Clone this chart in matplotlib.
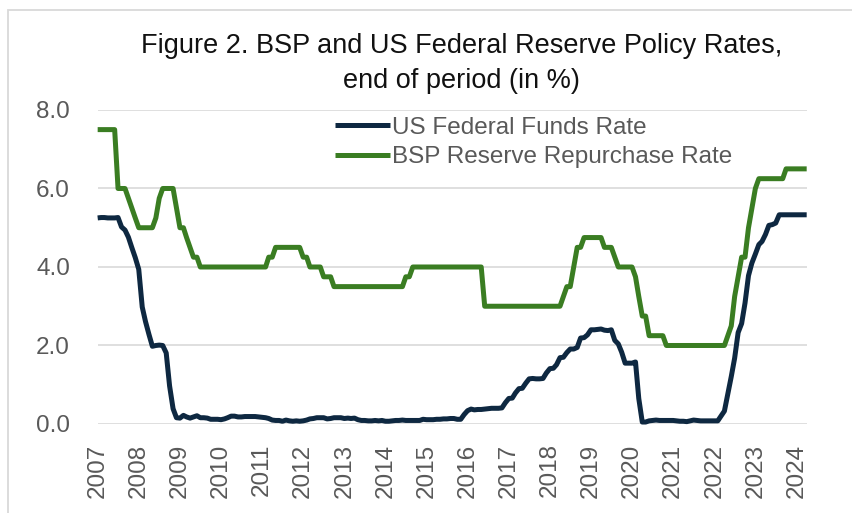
import matplotlib
matplotlib.use("Agg")
import matplotlib.pyplot as plt
import pandas as pd
from matplotlib.patches import Rectangle

# monthly, Jan 2007 - Apr 2024 (in %)
fed_funds = [
    5.25, 5.26, 5.26, 5.25, 5.25, 5.25, 5.26, 5.02, 4.94, 4.76, 4.49, 4.24,  # 2007
    3.94, 2.98, 2.61, 2.28, 1.98, 2.00, 2.01, 2.00, 1.81, 0.97, 0.39, 0.16,  # 2008
    0.15, 0.22, 0.18, 0.15, 0.18, 0.21, 0.16, 0.16, 0.15, 0.12, 0.12, 0.12,  # 2009
    0.11, 0.13, 0.16, 0.20, 0.20, 0.18, 0.18, 0.19, 0.19, 0.19, 0.19, 0.18,  # 2010
    0.17, 0.16, 0.14, 0.10, 0.09, 0.09, 0.07, 0.10, 0.08, 0.07, 0.08, 0.07,  # 2011
    0.08, 0.10, 0.13, 0.14, 0.16, 0.16, 0.16, 0.13, 0.14, 0.16, 0.16, 0.16,  # 2012
    0.14, 0.15, 0.14, 0.15, 0.11, 0.09, 0.09, 0.08, 0.08, 0.09, 0.08, 0.09,  # 2013
    0.07, 0.07, 0.08, 0.09, 0.09, 0.10, 0.09, 0.09, 0.09, 0.09, 0.09, 0.12,  # 2014
    0.11, 0.11, 0.11, 0.12, 0.12, 0.13, 0.13, 0.14, 0.14, 0.12, 0.12, 0.24,  # 2015
    0.34, 0.38, 0.36, 0.37, 0.37, 0.38, 0.39, 0.40, 0.40, 0.40, 0.41, 0.54,  # 2016
    0.65, 0.66, 0.79, 0.90, 0.91, 1.04, 1.15, 1.16, 1.15, 1.15, 1.16, 1.30,  # 2017
    1.41, 1.42, 1.51, 1.69, 1.70, 1.82, 1.91, 1.91, 1.95, 2.19, 2.20, 2.27,  # 2018
    2.40, 2.40, 2.41, 2.42, 2.39, 2.38, 2.40, 2.13, 2.04, 1.83, 1.55, 1.55,  # 2019
    1.55, 1.58, 0.65, 0.05, 0.05, 0.08, 0.09, 0.10, 0.09, 0.09, 0.09, 0.09,  # 2020
    0.09, 0.08, 0.07, 0.07, 0.06, 0.08, 0.10, 0.09, 0.08, 0.08, 0.08, 0.08,  # 2021
    0.08, 0.08, 0.20, 0.33, 0.77, 1.21, 1.68, 2.33, 2.56, 3.08, 3.78, 4.10,  # 2022
    4.33, 4.57, 4.65, 4.83, 5.06, 5.08, 5.12, 5.33, 5.33, 5.33, 5.33, 5.33,  # 2023
    5.33, 5.33, 5.33, 5.33,                                                  # 2024
]

bsp_rrp = [
    7.50, 7.50, 7.50, 7.50, 7.50, 7.50, 6.00, 6.00, 6.00, 5.75, 5.50, 5.25,  # 2007
    5.00, 5.00, 5.00, 5.00, 5.00, 5.25, 5.75, 6.00, 6.00, 6.00, 6.00, 5.50,  # 2008
    5.00, 5.00, 4.75, 4.50, 4.25, 4.25, 4.00, 4.00, 4.00, 4.00, 4.00, 4.00,  # 2009
    4.00, 4.00, 4.00, 4.00, 4.00, 4.00, 4.00, 4.00, 4.00, 4.00, 4.00, 4.00,  # 2010
    4.00, 4.00, 4.25, 4.25, 4.50, 4.50, 4.50, 4.50, 4.50, 4.50, 4.50, 4.50,  # 2011
    4.25, 4.25, 4.00, 4.00, 4.00, 4.00, 3.75, 3.75, 3.75, 3.50, 3.50, 3.50,  # 2012
    3.50, 3.50, 3.50, 3.50, 3.50, 3.50, 3.50, 3.50, 3.50, 3.50, 3.50, 3.50,  # 2013
    3.50, 3.50, 3.50, 3.50, 3.50, 3.50, 3.75, 3.75, 4.00, 4.00, 4.00, 4.00,  # 2014
    4.00, 4.00, 4.00, 4.00, 4.00, 4.00, 4.00, 4.00, 4.00, 4.00, 4.00, 4.00,  # 2015
    4.00, 4.00, 4.00, 4.00, 4.00, 3.00, 3.00, 3.00, 3.00, 3.00, 3.00, 3.00,  # 2016
    3.00, 3.00, 3.00, 3.00, 3.00, 3.00, 3.00, 3.00, 3.00, 3.00, 3.00, 3.00,  # 2017
    3.00, 3.00, 3.00, 3.00, 3.25, 3.50, 3.50, 4.00, 4.50, 4.50, 4.75, 4.75,  # 2018
    4.75, 4.75, 4.75, 4.75, 4.50, 4.50, 4.50, 4.25, 4.00, 4.00, 4.00, 4.00,  # 2019
    4.00, 3.75, 3.25, 2.75, 2.75, 2.25, 2.25, 2.25, 2.25, 2.25, 2.00, 2.00,  # 2020
    2.00, 2.00, 2.00, 2.00, 2.00, 2.00, 2.00, 2.00, 2.00, 2.00, 2.00, 2.00,  # 2021
    2.00, 2.00, 2.00, 2.00, 2.25, 2.50, 3.25, 3.75, 4.25, 4.25, 5.00, 5.50,  # 2022
    6.00, 6.25, 6.25, 6.25, 6.25, 6.25, 6.25, 6.25, 6.25, 6.50, 6.50, 6.50,  # 2023
    6.50, 6.50, 6.50, 6.50,                                                  # 2024
]

years = list(range(2007, 2025))
y_ticks = [0, 2, 4, 6, 8]

NAVY = "#0E2841"
GREEN = "#3A7D22"
GRAY_TXT = "#595959"
GRID = "#D9D9D9"
FONT = ["Liberation Sans", "DejaVu Sans"]

dates = pd.date_range("2007-01-01", periods=len(fed_funds), freq="MS")

fig = plt.figure(figsize=(8.53, 5.13), dpi=100)
ax = fig.add_axes([0.1145, 0.1735, 0.8312, 0.6121])

# chart area border (cut off at right/bottom like the source)
fig.patches.append(Rectangle((8 / 853, -0.1), 1.2, 1.1 - 10 / 513, transform=fig.transFigure,
                             fill=False, edgecolor=GRID, linewidth=1.3))

ax.plot(dates, fed_funds, color=NAVY, lw=3.6, solid_joinstyle="round", solid_capstyle="butt",
        label="US Federal Funds Rate", clip_on=False)
ax.plot(dates, bsp_rrp, color=GREEN, lw=3.6, solid_joinstyle="round", solid_capstyle="butt",
        label="BSP Reserve Repurchase Rate", clip_on=False)

ax.set_xlim(dates[0], dates[-1])
ax.set_ylim(0, 8)
ax.set_yticks(y_ticks)
ax.set_yticklabels([f"{v:.1f}" for v in y_ticks])
ax.set_xticks([pd.Timestamp(f"{y}-01-01") for y in years])
ax.set_xticklabels([str(y) for y in years], rotation=90)

ax.grid(axis="y", color=GRID, linewidth=1.2)
ax.set_axisbelow(True)
for s in ax.spines.values():
    s.set_visible(False)
ax.tick_params(axis="both", length=0, labelsize=17.5, labelcolor=GRAY_TXT)
ax.tick_params(axis="y", pad=20)
ax.tick_params(axis="x", pad=14)
for lbl in ax.get_xticklabels() + ax.get_yticklabels():
    lbl.set_fontfamily(FONT)

leg = ax.legend(loc="upper left", bbox_to_anchor=(0.393, 0.772), bbox_transform=fig.transFigure,
                frameon=False, borderpad=0, borderaxespad=0, handlelength=2.25, handletextpad=0.1,
                labelspacing=0.3, prop={"family": FONT, "size": 17.5})
for t in leg.get_texts():
    t.set_color(GRAY_TXT)

fig.text(0.541, 0.876, "Figure 2. BSP and US Federal Reserve Policy Rates,\nend of period (in %)",
         ha="center", va="center", fontsize=19.5, linespacing=1.45, color="#111111",
         family=FONT)

fig.savefig("out.png", dpi=100)
